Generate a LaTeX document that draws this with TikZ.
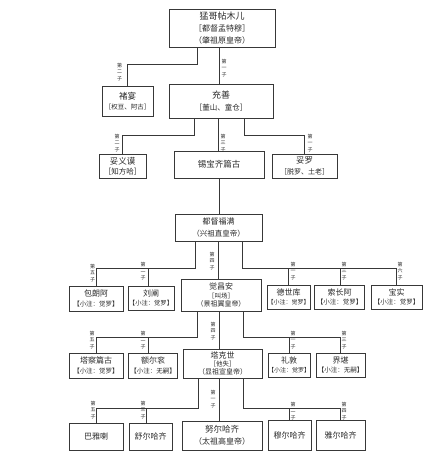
\documentclass[tikz,border=0pt]{standalone}
\usepackage{fontspec}
\newfontfamily\cjk{Noto Sans CJK SC}
\usetikzlibrary{calc}
\definecolor{linec}{HTML}{383838}
\definecolor{textc}{HTML}{2A2A2A}
\newcommand\fsz[2]{\fontsize{#1}{#2}\selectfont}
\begin{document}
\begin{tikzpicture}[x=1pt,y=-1pt,
  box/.style={draw=linec, line width=1pt, inner sep=0pt, align=center, text=textc, font=\cjk\fsz{8}{10}},
  conn/.style={draw=linec, line width=1pt},
  lab/.style={inner sep=0pt, align=center, text=textc, font=\cjk\fsz{5}{6.8}}]
\useasboundingbox[fill=white] (0,0) rectangle (440,456);

% boxes
\node[box, minimum width=106pt, minimum height=38pt, font=\cjk\fsz{9}{12}] (b1) at (222,28) {猛哥帖木儿\\{\fsz{8}{12}［都督孟特穆］}\\{\fsz{8}{12}（肇祖原皇帝）}};
\node[box, minimum width=51pt, minimum height=30pt, font=\cjk\fsz{8.5}{10}] (cy) at (127.5,101) {褚宴\\{\fsz{6.5}{10}［权豆、阿古］}};
\node[box, minimum width=104pt, minimum height=34pt, font=\cjk\fsz{9}{12}] (cs) at (221,101) {充善\\{\fsz{7.5}{12}［董山、童仓］}};
\node[box, minimum width=47pt, minimum height=24pt, font=\cjk\fsz{8.5}{10.5}] (ty) at (122.5,166) {妥义谟\\{\fsz{7.5}{10.5}［知方哈］}};
\node[box, minimum width=90pt, minimum height=27pt, font=\cjk\fsz{8.5}{10}] (xb) at (219,164.5) {锡宝齐篇古};
\node[box, minimum width=65pt, minimum height=24pt, font=\cjk\fsz{8.5}{10.5}] (tl) at (304.5,166) {妥罗\\{\fsz{7}{10.5}［脱罗、土老］}};
\node[box, minimum width=87pt, minimum height=27pt, font=\cjk\fsz{8}{12}] (fm) at (218.5,227.5) {都督福满\\{\fsz{7.5}{12}（兴祖直皇帝）}};

\node[box, minimum width=54pt, minimum height=25pt, font=\cjk\fsz{8}{9.5}] (bla) at (96,298.5) {包朗阿\\{\fsz{6.5}{9.5}【小注：觉罗】}};
\node[box, minimum width=46pt, minimum height=24pt, font=\cjk\fsz{8}{9.5}] (lc) at (151,298) {刘阐\\{\fsz{6.3}{9.5}【小注：觉罗】}};
\node[box, minimum width=80pt, minimum height=32pt, font=\cjk\fsz{8}{8.5}] (jca) at (221,295) {觉昌安\\{\fsz{6.5}{8.5}［叫场］}\\{\fsz{7}{8.5}（景祖翼皇帝）}};
\node[box, minimum width=43pt, minimum height=24pt, font=\cjk\fsz{8}{9.5}] (dsk) at (288.5,297) {德世库\\{\fsz{6}{9.5}【小注：觉罗】}};
\node[box, minimum width=50pt, minimum height=24pt, font=\cjk\fsz{8}{9.5}] (sca) at (339.5,297) {索长阿\\{\fsz{6.5}{9.5}【小注：觉罗】}};
\node[box, minimum width=51pt, minimum height=24pt, font=\cjk\fsz{8}{9.5}] (bs) at (396.5,297) {宝实\\{\fsz{6.5}{9.5}【小注：觉罗】}};

\node[box, minimum width=54pt, minimum height=25pt, font=\cjk\fsz{8}{9.5}] (tcpg) at (96,365.5) {塔察篇古\\{\fsz{6.5}{9.5}【小注：觉罗】}};
\node[box, minimum width=49pt, minimum height=25pt, font=\cjk\fsz{8}{9.5}] (ee) at (153,365.5) {额尔衮\\{\fsz{6.5}{9.5}【小注：无嗣】}};
\node[box, minimum width=79pt, minimum height=29pt, font=\cjk\fsz{8}{8}] (tks) at (222.5,363.5) {塔克世\\{\fsz{6.5}{8}［他失］}\\{\fsz{7}{8}（显祖宣皇帝）}};
\node[box, minimum width=42pt, minimum height=24pt, font=\cjk\fsz{8}{9.5}] (ld) at (289,365) {礼敦\\{\fsz{6}{9.5}【小注：觉罗】}};
\node[box, minimum width=49pt, minimum height=24pt, font=\cjk\fsz{8}{9.5}] (jk) at (340.5,365) {界堪\\{\fsz{6.5}{9.5}【小注：无嗣】}};

\node[box, minimum width=54pt, minimum height=27pt, font=\cjk\fsz{8}{10}] (byl) at (96,436.5) {巴雅喇};
\node[box, minimum width=43pt, minimum height=27pt, font=\cjk\fsz{8}{10}] (sehq) at (150.5,436.5) {舒尔哈齐};
\node[box, minimum width=80pt, minimum height=29pt, font=\cjk\fsz{8.5}{12}] (nehq) at (222,435.5) {努尔哈齐\\{\fsz{8}{12}（太祖高皇帝）}};
\node[box, minimum width=43pt, minimum height=30pt, font=\cjk\fsz{8}{10}] (mehq) at (289.5,435) {穆尔哈齐};
\node[box, minimum width=49pt, minimum height=30pt, font=\cjk\fsz{8}{10}] (yehq) at (340.5,435) {雅尔哈齐};

% connectors
\draw[conn] ([xshift=-25pt]b1.south) -- ++(0,17) -| (cy.north);
\draw[conn] ($(b1.south)+(-3,0)$) -- ($(b1.south |- cs.north)+(-3,0)$);

\draw[conn] ([xshift=-27pt]cs.south) -- ++(0,17) -| (ty.north);
\draw[conn] ($(cs.south)+(-3,0)$) -- ($(cs.south |- xb.north)+(-3,0)$);
\draw[conn] ([xshift=23pt]cs.south) -- ++(0,17) -| (tl.north);

\draw[conn] (xb.south) -- (xb.south |- fm.north);

\draw[conn] ([xshift=-23.5pt]fm.south) -- ++(0,27) coordinate (fmL) -| (bla.north);
\draw[conn] ($(fmL -| lc.north)+(-3,0)$) -- ($(lc.north)+(-3,0)$);
\draw[conn] (fm.south) -- (fm.south |- jca.north);
\draw[conn] ([xshift=23.5pt]fm.south) -- ++(0,27) coordinate (fmR) -| (bs.north);
\draw[conn] (fmR -| dsk.north) -- (dsk.north);
\draw[conn] ($(fmR -| sca.north)+(1,0)$) -- ($(sca.north)+(1,0)$);

\draw[conn] ([xshift=-24pt]jca.south) -- ++(0,26) coordinate (jL) -| (tcpg.north);
\draw[conn] ($(jL -| ee.north)+(-5,0)$) -- ($(ee.north)+(-5,0)$);
\draw[conn] ($(jca.south)+(-2,0)$) -- ($(jca.south |- tks.north)+(-2,0)$);
\draw[conn] ([xshift=22pt]jca.south) -- ++(0,26) coordinate (jR) -| (jk.north);
\draw[conn] (jR -| ld.north) -- (ld.north);

\draw[conn] ([xshift=-24.5pt]tks.south) -- ++(0,30) coordinate (tL) -| (byl.north);
\draw[conn] ($(tL -| sehq.north)+(-4,0)$) -- ($(sehq.north)+(-4,0)$);
\draw[conn] ($(tks.south)+(-3.5,0)$) -- ($(tks.south |- nehq.north)+(-3.5,0)$);
\draw[conn] ([xshift=20.5pt]tks.south) -- ++(0,30) coordinate (tR) -| (yehq.north);
\draw[conn] (tR -| mehq.north) -- (mehq.north);

% labels
\node[lab] (l1) at (119.5,72) {第\\二\\子};
\node[lab] (l2) at (224,68) {第\\一\\子};
\node[lab] (l3) at (117,143) {第\\二\\子};
\node[lab] (l4) at (223,143) {第\\三\\子};
\node[lab] (l5) at (310,143) {第\\一\\子};
\node[lab] (l6) at (212,261) {第\\四\\子};
\node[lab] (l7) at (92.5,273) {第\\五\\子};
\node[lab] (l8) at (143,271) {第\\二\\子};
\node[lab] (l9) at (293,271) {第\\一\\子};
\node[lab] (l10) at (344,271) {第\\三\\子};
\node[lab] (l11) at (400,271) {第\\六\\子};
\node[lab] (l12) at (92,340) {第\\五\\子};
\node[lab] (l13) at (143,340) {第\\二\\子};
\node[lab] (l14) at (213,331) {第\\四\\子};
\node[lab] (l15) at (293,340) {第\\一\\子};
\node[lab] (l16) at (344,340) {第\\三\\子};
\node[lab] (l17) at (93,410) {第\\五\\子};
\node[lab] (l18) at (143,410) {第\\三\\子};
\node[lab] (l19) at (213,399) {第\\一\\子};
\node[lab] (l20) at (293,411) {第\\二\\子};
\node[lab] (l21) at (344,411) {第\\四\\子};
\end{tikzpicture}
\end{document}
